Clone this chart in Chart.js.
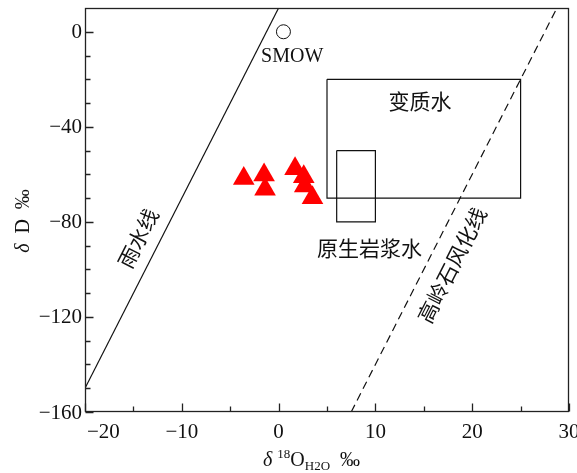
<!DOCTYPE html>
<html>
<head>
<meta charset="utf-8">
<script src="https://cdn.jsdelivr.net/npm/chart.js@4.4.0/dist/chart.umd.min.js"></script>
<style>
  html, body { margin: 0; padding: 0; background: #ffffff; }
  #wrap { width: 577px; height: 473px; position: relative; }
</style>
</head>
<body>
<div id="wrap"><canvas id="chart" width="577" height="473"></canvas></div>
<script>
// Sample isotope values (δ18O of water, δD), per mil
const sampleO18 = [-3.6, -1.5, -1.4, 1.7, 2.6, 2.7, 3.5];
const sampleDD  = [-61.7, -60.3, -66.3, -57.6, -61.0, -64.9, -69.8];

// Standard mean ocean water reference point
const smowO18 = [0.5];
const smowDD  = [0];

// Meteoric water line endpoints (δ18O, δD)
const meteoricO18 = [-20, 0];
const meteoricDD  = [-150, 10];

// Kaolinite weathering line endpoints
const kaoliniteO18 = [7.5, 28.75];
const kaoliniteDD  = [-160, 10];

// Metamorphic water field corners
const metamorphicO18 = [5, 25, 25, 5, 5];
const metamorphicDD  = [-20, -20, -70, -70, -20];

// Primary magmatic water field corners
const magmaticO18 = [6, 10, 10, 6, 6];
const magmaticDD  = [-50, -50, -80, -80, -50];

// Axis ticks
const xMajorTicks = [-20, -10, 0, 10, 20, 30];
const xMinorTicks = [-15, -5, 5, 15, 25];
const yMajorTicks = [-160, -120, -80, -40, 0];
const yMinorTicks = [-150, -140, -130, -110, -100, -90, -70, -60, -50, -30, -20, -10];

const pts = (xs, ys) => xs.map((x, i) => ({ x: x, y: ys[i] }));

const SERIF = '"Liberation Serif", "Times New Roman", serif';
const CJK = '"Noto Sans CJK SC", "Noto Sans", sans-serif';

// Field / line labels, anchored in data coordinates
const notes = [
  { text: 'SMOW',        x: 1.4,  y: -10.7, rot: 0,   font: '20px ' + SERIF },
  { text: '变质水',       x: 14.6, y: -29.2, rot: 0,   font: '21px ' + CJK },
  { text: '原生岩浆水',   x: 9.4,  y: -91.0, rot: 0,   font: '21px ' + CJK },
  { text: '雨水线',       x: -14.5, y: -86.9, rot: -63, font: '21px ' + CJK },
  { text: '高岭石风化线', x: 17.9, y: -98.2, rot: -63, font: '21px ' + CJK }
];

const uminus = s => String(s).replace('-', '\u2212');

const decorPlugin = {
  id: 'decor',
  afterDraw(chart) {
    const ctx = chart.ctx;
    const a = chart.chartArea;
    const xs = chart.scales.x, ys = chart.scales.y;
    const L = Math.round(a.left) + 0.5, R = Math.round(a.right) - 0.5;
    const T = Math.round(a.top) + 0.5, B = Math.round(a.bottom) - 0.5;
    ctx.save();
    // frame
    ctx.strokeStyle = '#222';
    ctx.lineWidth = 1.3;
    ctx.strokeRect(L, T, R - L, B - T);
    // inward ticks
    ctx.beginPath();
    xMajorTicks.forEach(v => { const p = Math.round(xs.getPixelForValue(v)) + 0.5; ctx.moveTo(p, B); ctx.lineTo(p, B - 8); });
    xMinorTicks.forEach(v => { const p = Math.round(xs.getPixelForValue(v)) + 0.5; ctx.moveTo(p, B); ctx.lineTo(p, B - 5); });
    yMajorTicks.forEach(v => { const p = Math.round(ys.getPixelForValue(v)) + 0.5; ctx.moveTo(L, p); ctx.lineTo(L + 8, p); });
    yMinorTicks.forEach(v => { const p = Math.round(ys.getPixelForValue(v)) + 0.5; ctx.moveTo(L, p); ctx.lineTo(L + 5, p); });
    ctx.stroke();

    // tick labels
    ctx.fillStyle = '#111';
    ctx.font = '21px ' + SERIF;
    ctx.textBaseline = 'middle';
    ctx.textAlign = 'right';
    yMajorTicks.forEach(v => ctx.fillText(uminus(v), a.left - 3, ys.getPixelForValue(v) + 1));
    ctx.textAlign = 'left';
    xMajorTicks.forEach(v => {
      const s = uminus(v);
      const w = ctx.measureText(s).width;
      let x0 = xs.getPixelForValue(v) - w / 2;
      if (x0 < a.left + 2) x0 = a.left + 2;
      ctx.fillText(s, x0, a.bottom + 20);
    });

    // x axis title: δ 18O H2O ‰
    const base = 466;
    let cx = 263;
    const parts = [
      { t: 'δ', f: 'italic 20px ' + SERIF, dy: 0 },
      { t: ' ', f: '20px ' + SERIF, dy: 0 },
      { t: '18', f: '13px ' + SERIF, dy: -8 },
      { t: 'O', f: '20px ' + SERIF, dy: 0 },
      { t: 'H2O', f: '13px ' + SERIF, dy: 4 },
      { t: '  ', f: '20px ' + SERIF, dy: 0 },
      { t: '‰', f: '20px ' + SERIF, dy: 0 }
    ];
    ctx.textBaseline = 'alphabetic';
    parts.forEach(p => {
      ctx.font = p.f;
      ctx.fillText(p.t, cx, base + p.dy);
      cx += ctx.measureText(p.t).width;
    });

    // y axis title: δ D ‰
    ctx.save();
    ctx.translate(29, 221);
    ctx.rotate(-Math.PI / 2);
    const yparts = [
      { t: 'δ', f: 'italic 20px ' + SERIF },
      { t: '  D  ', f: '20px ' + SERIF },
      { t: '‰', f: '20px ' + SERIF }
    ];
    let tw = 0;
    yparts.forEach(p => { ctx.font = p.f; tw += ctx.measureText(p.t).width; });
    let yx = -tw / 2;
    yparts.forEach(p => { ctx.font = p.f; ctx.fillText(p.t, yx, 0); yx += ctx.measureText(p.t).width; });
    ctx.restore();

    // field and line labels
    ctx.textAlign = 'center';
    ctx.textBaseline = 'middle';
    notes.forEach(n => {
      ctx.save();
      ctx.translate(xs.getPixelForValue(n.x), ys.getPixelForValue(n.y));
      ctx.rotate(n.rot * Math.PI / 180);
      ctx.font = n.font;
      ctx.fillText(n.text, 0, 0);
      ctx.restore();
    });
    ctx.restore();
  }
};

const lineSet = (data, extra) => Object.assign({
  data: data,
  showLine: true,
  borderColor: '#111',
  borderWidth: 1.2,
  pointRadius: 0,
  pointHoverRadius: 0,
  fill: false,
  tension: 0
}, extra || {});

new Chart(document.getElementById('chart'), {
  type: 'scatter',
  data: {
    datasets: [
      lineSet(pts(metamorphicO18, metamorphicDD)),
      lineSet(pts(magmaticO18, magmaticDD)),
      lineSet(pts(meteoricO18, meteoricDD)),
      lineSet(pts(kaoliniteO18, kaoliniteDD), { borderDash: [8, 5] }),
      {
        data: pts(smowO18, smowDD),
        pointStyle: 'circle',
        pointRadius: 7,
        pointBackgroundColor: '#ffffff',
        pointBorderColor: '#111',
        pointBorderWidth: 1
      },
      {
        data: pts(sampleO18, sampleDD),
        pointStyle: 'triangle',
        pointRadius: 12.5,
        pointBackgroundColor: '#ff0000',
        pointBorderColor: '#ff0000',
        pointBorderWidth: 0
      }
    ]
  },
  options: {
    responsive: false,
    animation: false,
    events: [],
    layout: { autoPadding: false, padding: { top: 8, right: 8, left: 0, bottom: 0 } },
    plugins: { legend: { display: false }, tooltip: { enabled: false } },
    scales: {
      x: {
        type: 'linear', min: -20, max: 30,
        ticks: { display: false },
        grid: { display: false },
        border: { display: false },
        afterFit(s) { s.height = 61; }
      },
      y: {
        type: 'linear', min: -160, max: 10,
        ticks: { display: false },
        grid: { display: false },
        border: { display: false },
        afterFit(s) { s.width = 85; }
      }
    }
  },
  plugins: [decorPlugin]
});
</script>
</body>
</html>
